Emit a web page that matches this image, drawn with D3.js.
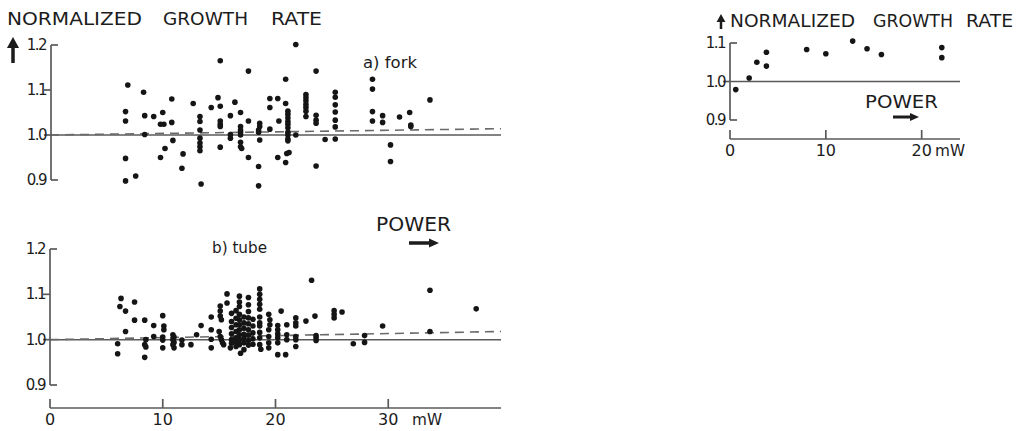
<!DOCTYPE html>
<html>
<head>
<meta charset="utf-8">
<script src="https://cdn.jsdelivr.net/npm/d3@7"></script>
<style>
  body { margin: 0; background: #fff; }
  text { font-family: "DejaVu Sans", "Liberation Sans", sans-serif; fill: #1c1c1c; }
</style>
</head>
<body>
<svg id="chart" width="1030" height="431"></svg>
<script>
// --- data (power in mW, normalized growth rate) ---
var forkPoints = [
  [6.9,1.111],[6.7,1.052],[6.7,1.031],[6.7,0.948],[6.7,0.898],[7.6,0.909],
  [8.3,1.095],[8.4,1.043],[8.4,1.001],[9.2,1.041],[10.0,1.050],[9.8,1.024],[10.1,1.024],
  [10.8,1.080],[10.8,1.028],[10.9,0.988],[10.2,0.970],[9.8,0.950],[11.8,0.958],[11.7,0.926],
  [12.7,1.070],
  [13.3,1.041],[13.3,1.030],[13.3,1.011],[13.3,0.993],[13.3,0.982],[13.3,0.974],[13.3,0.965],[13.4,0.891],
  [14.3,1.061],[15.1,1.165],[14.9,1.083],[15.1,1.064],[15.1,1.031],[15.1,1.024],[15.1,1.019],[15.1,0.973],
  [16.0,1.043],[16.0,1.001],[16.0,0.993],[16.4,1.073],[16.9,1.050],[16.9,1.019],[16.9,1.011],[16.9,1.006],
  [16.9,1.0],[16.9,0.984],[16.9,0.974],[17.0,0.970],
  [17.6,1.142],[17.6,1.031],[17.6,0.950],
  [18.6,1.026],[18.6,1.019],[18.5,1.011],[18.5,1.006],[19.5,1.013],[18.6,0.989],[18.5,0.930],[18.5,0.887],
  [19.5,1.081],[19.5,1.061],[20.2,1.081],[20.9,1.124],[20.9,1.070],
  [21.1,1.053],[21.1,1.046],[21.1,1.038],[21.1,1.030],[21.1,1.024],[21.1,1.016],[20.3,1.031],
  [21.1,1.006],[21.1,1.0],[21.1,0.991],[21.1,0.987],
  [20.2,0.950],[21.0,0.959],[21.2,0.961],[20.9,0.939],
  [21.8,1.201],[21.8,1.0],
  [22.7,1.090],[22.7,1.083],[22.7,1.076],[22.7,1.068],[22.7,1.061],[22.7,1.053],[22.7,1.041],
  [23.6,1.142],[23.6,1.044],[23.6,1.033],[23.6,1.026],[23.6,0.931],[24.4,0.990],
  [25.3,1.095],[25.3,1.084],[25.3,1.067],[25.3,1.051],[25.3,1.033],[25.3,1.018],[25.3,0.991],
  [28.6,1.124],[28.6,1.102],[28.6,1.052],[28.6,1.031],[29.5,1.043],[29.5,1.028],
  [31.0,1.040],[31.9,1.050],[32.0,1.022],[32.0,1.019],[30.2,0.978],[30.2,0.941],[33.7,1.078]
];

var tubePoints = [
  [6.3,1.091],[6.2,1.073],[6.7,1.063],[6.7,1.018],[6.0,0.991],[6.0,0.969],
  [7.5,1.083],[7.5,1.043],[8.4,1.043],[8.5,1.0],[8.4,0.989],[8.5,0.984],[8.4,0.961],
  [9.2,1.031],[9.2,1.007],[10.0,1.053],[10.1,1.030],[10.1,1.022],[10.0,1.006],[10.0,0.999],[10.0,0.982],
  [10.9,1.011],[11.0,1.006],[10.9,1.0],[11.0,0.994],[10.9,0.989],[11.0,0.982],
  [11.7,0.999],[11.7,0.989],[12.5,0.989],[13.0,1.011],[13.4,1.031],
  [14.3,1.050],[14.3,1.022],[14.3,1.001],[14.3,0.982],
  [15.1,1.074],[15.1,1.063],[15.1,1.052],[15.2,1.044],[15.0,1.018],[15.1,1.007],[15.2,1.0],[15.3,0.993],[15.4,0.989],
  [15.7,1.101],[15.7,1.081],
  [16.1,1.058],[16.1,1.040],[16.1,1.027],[16.1,1.013],[16.1,1.0],[16.1,0.992],[16.0,0.982],
  [16.5,1.064],[16.5,1.047],[16.5,1.033],[16.5,1.018],[16.5,1.004],[16.5,0.995],[16.5,0.985],
  [16.8,1.096],[16.8,1.083],[16.8,1.073],[16.8,1.056],[16.8,1.044],[16.8,1.033],[16.8,1.022],
  [16.8,1.011],[16.8,1.0],[16.8,0.989],[16.9,0.970],
  [17.2,1.050],[17.2,1.037],[17.2,1.025],[17.2,1.012],[17.2,1.003],[17.2,0.993],[17.2,0.978],
  [17.6,1.093],[17.6,1.077],[17.6,1.062],[17.6,1.048],[17.6,1.035],[17.6,1.022],[17.6,1.010],[17.6,0.998],[17.6,0.988],
  [18.0,1.045],[18.0,1.030],[18.0,1.015],[18.0,1.002],[18.0,0.990],
  [18.6,1.112],[18.6,1.100],[18.6,1.089],[18.6,1.078],[18.6,1.067],[18.6,1.050],[18.6,1.037],
  [18.6,1.030],[18.6,1.016],[18.6,1.004],[18.6,0.989],[18.7,0.979],
  [19.4,1.056],[19.5,1.044],[19.5,1.033],[19.4,1.022],[19.4,1.007],[19.4,0.993],[19.4,0.982],
  [20.5,1.063],[20.2,1.031],[20.2,1.022],[20.2,1.013],[20.2,1.004],[20.2,0.993],[20.2,0.967],[20.9,0.967],
  [21.0,1.033],[21.0,1.011],[21.0,1.0],
  [21.8,1.048],[21.8,1.037],[21.8,1.030],[21.8,1.007],[21.8,1.0],[21.8,0.985],
  [22.7,1.041],[23.2,1.131],[23.5,1.052],[23.6,1.009],[23.6,1.004],[23.6,0.998],
  [25.2,1.064],[25.2,1.056],[25.2,1.048],[25.9,1.061],[26.9,0.991],[27.9,1.009],[27.9,0.994],[29.5,1.030],
  [33.7,1.109],[33.7,1.018],[37.8,1.068]
];

var insetPoints = [
  [0.6,0.979],[2.0,1.009],[2.8,1.050],[3.8,1.076],[3.8,1.040],[8.0,1.083],
  [10.0,1.072],[12.8,1.105],[14.3,1.085],[15.8,1.070],[22.1,1.088],[22.1,1.062]
];

var forkTrend = [[0,1.0],[40,1.014]];
var tubeTrend = [[0,1.0],[40,1.018]];

var mainYTicks = [0.9, 1.0, 1.1, 1.2];
var mainXTicks = [0, 10, 20, 30];
var insetYTicks = [0.9, 1.0, 1.1];
var insetXTicks = [0, 10, 20];

// --- scales ---
var svg = d3.select("#chart");

var xMain = d3.scaleLinear().domain([0, 40]).range([50, 501]);
var yTop = d3.scaleLinear().domain([0.9, 1.2]).range([180, 45]);
var yBot = d3.scaleLinear().domain([0.9, 1.2]).range([385, 249]);
var xIns = d3.scaleLinear().domain([0, 24]).range([730, 960]);
var yIns = d3.scaleLinear().domain([0.9, 1.1]).range([120, 43]);

var lineCol = "#5a5a5a", dotCol = "#151515";

// y axis: end ticks point right, inner ticks point left
function yAxis(y, x0, ticks, fs) {
  var g = svg.append("g");
  var lo = d3.min(ticks), hi = d3.max(ticks);
  g.append("line")
    .attr("x1", x0).attr("x2", x0)
    .attr("y1", y(hi)).attr("y2", y(lo))
    .attr("stroke", lineCol).attr("stroke-width", 1.7);
  ticks.forEach(function(t) {
    var end = (t == lo || t == hi);
    g.append("line")
      .attr("x1", x0).attr("x2", end ? x0 + 7 : x0 - 7)
      .attr("y1", y(t)).attr("y2", y(t))
      .attr("stroke", lineCol).attr("stroke-width", 1.7);
    g.append("text")
      .attr("x", x0 - 5).attr("y", y(t) + 5)
      .attr("text-anchor", "end")
      .attr("font-size", fs)
      .attr("letter-spacing", -1.5)
      .text(d3.format(".1f")(t));
  });
}

function refLine(x, y, x0, x1) {
  svg.append("line")
    .attr("x1", x(x0)).attr("x2", x(x1))
    .attr("y1", y(1.0)).attr("y2", y(1.0))
    .attr("stroke", lineCol).attr("stroke-width", 1.5);
}

function trend(x, y, pts) {
  var line = d3.line()
    .x(function(d) { return x(d[0]); })
    .y(function(d) { return y(d[1]); });
  svg.append("path")
    .attr("d", line(pts))
    .attr("fill", "none")
    .attr("stroke", "#6a6a6a")
    .attr("stroke-width", 1.6)
    .attr("stroke-dasharray", "9,6");
}

function dots(x, y, pts) {
  svg.append("g").selectAll("circle")
    .data(pts)
    .enter().append("circle")
    .attr("cx", function(d) { return x(d[0]); })
    .attr("cy", function(d) { return y(d[1]); })
    .attr("r", 2.8)
    .attr("fill", dotCol);
}

function xAxis(x, yPos, ticks, fs) {
  var g = svg.append("g");
  g.append("line")
    .attr("x1", x.range()[0]).attr("x2", x.range()[1])
    .attr("y1", yPos).attr("y2", yPos)
    .attr("stroke", lineCol).attr("stroke-width", 1.7);
  ticks.forEach(function(t) {
    g.append("line")
      .attr("x1", x(t)).attr("x2", x(t))
      .attr("y1", yPos).attr("y2", yPos - 9)
      .attr("stroke", lineCol).attr("stroke-width", 1.7);
    g.append("text")
      .attr("x", x(t)).attr("y", yPos + 17)
      .attr("text-anchor", "middle")
      .attr("font-size", fs)
      .text(t);
  });
  return g;
}

// title split in words with wide gaps
function title(words, y, fs) {
  words.forEach(function(w) {
    svg.append("text")
      .attr("x", w[1]).attr("y", y)
      .attr("font-size", fs)
      .attr("textLength", w[2])
      .attr("lengthAdjust", "spacingAndGlyphs")
      .text(w[0]);
  });
}

function arrowUp(x, y0, y1, w, head) {
  svg.append("path")
    .attr("d", "M" + (x - w / 2) + "," + y0 + "V" + (y1 + head) +
      "H" + (x - head * 0.55) + "L" + x + "," + y1 + "L" + (x + head * 0.55) + "," + (y1 + head) +
      "H" + (x + w / 2) + "V" + y0 + "Z")
    .attr("fill", "#1c1c1c");
}

function arrowRight(x0, x1, y, w, head) {
  svg.append("path")
    .attr("d", "M" + x0 + "," + (y - w / 2) + "H" + (x1 - head) +
      "V" + (y - head * 0.45) + "L" + x1 + "," + y + "L" + (x1 - head) + "," + (y + head * 0.45) +
      "V" + (y + w / 2) + "H" + x0 + "Z")
    .attr("fill", "#1c1c1c");
}

// --- a) fork ---
refLine(xMain, yTop, 0, 40);
trend(xMain, yTop, forkTrend);
yAxis(yTop, 51, mainYTicks, 15);
dots(xMain, yTop, forkPoints);
svg.append("text").attr("x", 363).attr("y", 68).attr("font-size", 15)
  .attr("textLength", 54).attr("lengthAdjust", "spacingAndGlyphs").text("a) fork");

// --- b) tube ---
refLine(xMain, yBot, 0, 40);
trend(xMain, yBot, tubeTrend);
yAxis(yBot, 50, mainYTicks, 15);
dots(xMain, yBot, tubePoints);
svg.append("text").attr("x", 212).attr("y", 253).attr("font-size", 15)
  .attr("textLength", 55).attr("lengthAdjust", "spacingAndGlyphs").text("b) tube");
xAxis(xMain, 408, mainXTicks, 16);
svg.append("text").attr("x", 412).attr("y", 425).attr("font-size", 16)
  .attr("textLength", 30).attr("lengthAdjust", "spacingAndGlyphs").text("mW");

svg.append("text").attr("x", 376).attr("y", 231).attr("font-size", 19)
  .attr("textLength", 75).attr("lengthAdjust", "spacingAndGlyphs").text("POWER");
arrowRight(409, 439, 243, 3.5, 10);

title([["NORMALIZED", 7, 135], ["GROWTH", 163, 85], ["RATE", 271, 51]], 25, 17);
arrowUp(13, 63, 37, 3.5, 11);

// --- inset ---
refLine(xIns, yIns, 0, 24);
yAxis(yIns, 730, insetYTicks, 15);
dots(xIns, yIns, insetPoints);
xAxis(xIns, 139, insetXTicks, 16);
svg.append("text").attr("x", 935).attr("y", 156).attr("font-size", 16)
  .attr("textLength", 30).attr("lengthAdjust", "spacingAndGlyphs").text("mW");

svg.append("text").attr("x", 865).attr("y", 108).attr("font-size", 17)
  .attr("textLength", 73).attr("lengthAdjust", "spacingAndGlyphs").text("POWER");
arrowRight(893, 919, 117, 3, 9);

title([["NORMALIZED", 730, 125], ["GROWTH", 873, 80], ["RATE", 966, 47]], 27, 17);
arrowUp(721, 29, 14, 2.5, 8);
</script>
</body>
</html>
